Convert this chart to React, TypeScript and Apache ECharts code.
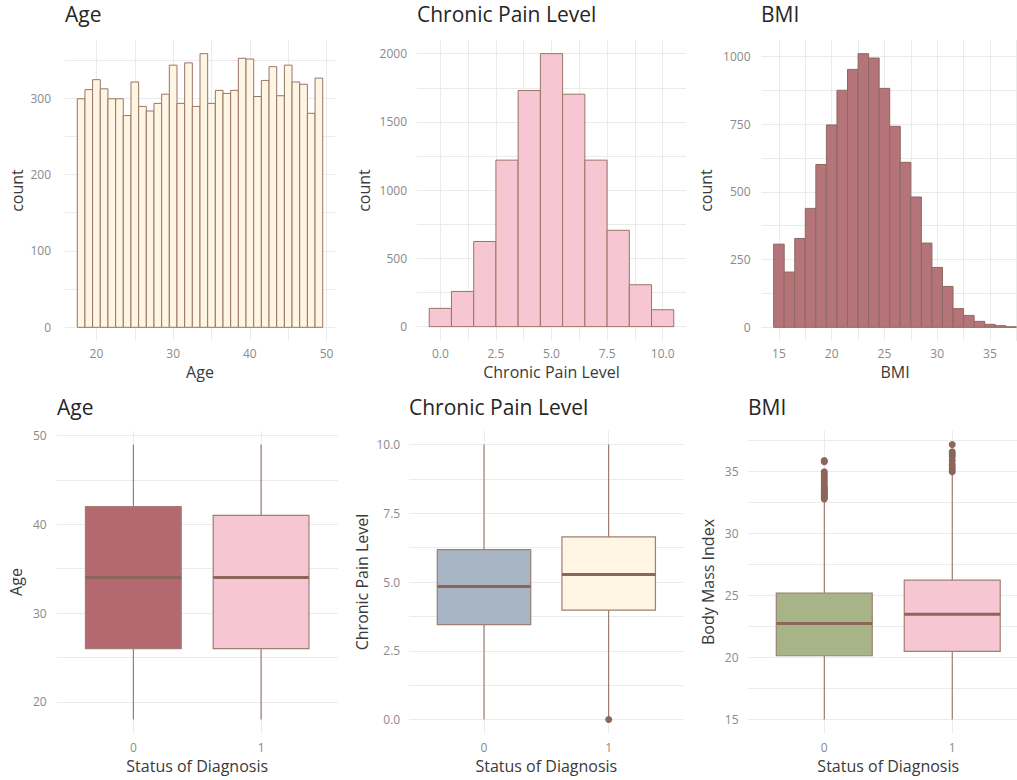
import React, { useEffect, useRef } from "react";
import * as echarts from "echarts";

// ---------- data ----------
const ageBins = [18, 19, 20, 21, 22, 23, 24, 25, 26, 27, 28, 29, 30, 31, 32, 33, 34, 35, 36, 37, 38, 39, 40, 41, 42, 43, 44, 45, 46, 47, 48, 49];
const ageCounts = [299, 311, 324, 312, 299, 299, 277, 321, 289, 283, 293, 305, 343, 293, 346, 289, 358, 293, 310, 306, 310, 352, 351, 302, 323, 341, 303, 343, 321, 318, 280, 326];

const painBins = [0, 1, 2, 3, 4, 5, 6, 7, 8, 9, 10];
const painCounts = [134, 258, 624, 1220, 1730, 2000, 1703, 1220, 706, 307, 124];

const bmiBins = [15, 16, 17, 18, 19, 20, 21, 22, 23, 24, 25, 26, 27, 28, 29, 30, 31, 32, 33, 34, 35, 36, 37];
const bmiCounts = [307, 204, 328, 439, 601, 747, 875, 952, 1010, 994, 882, 742, 609, 481, 311, 221, 151, 69, 44, 22, 11, 6, 2];

const diagnosisLabels = ["0", "1"];
// [lower whisker, Q1, median, Q3, upper whisker] for diagnosis 0 and 1
const ageBox = [
  [18, 26, 34, 42, 49],
  [18, 26, 34, 41, 49],
];
const painBox = [
  [0, 3.45, 4.84, 6.18, 10],
  [0.03, 3.98, 5.27, 6.64, 10],
];
const bmiBox = [
  [15, 20.15, 22.75, 25.2, 32.7],
  [15, 20.5, 23.5, 26.25, 34.85],
];
const painOutliers0: number[] = [];
const painOutliers1 = [0];
const bmiOutliers0 = [32.8, 32.9, 33.0, 33.1, 33.2, 33.3, 33.4, 33.5, 33.6, 33.7, 33.8, 34.0, 34.2, 34.4, 34.6, 34.8, 35.0, 35.8, 35.9];
const bmiOutliers1 = [35.0, 35.2, 35.4, 35.6, 35.9, 36.2, 36.4, 36.6, 37.2];

// ---------- styles ----------
const FONT = "'Open Sans', Lato, sans-serif";
const BROWN = "#8b6659";
const BORDER = "#a07f72";
const CREAM = "#fff5e3";
const PINK = "#f6c7d3";
const ROSE = "#b5737a";
const ROSE_BOX = "#b3696f";
const BLUEGRAY = "#a8b5c4";
const SAGE = "#a7b488";
const GRID = "#ebebeb";
const TICK = "#8a8a8a";
const TITLE = "#262626";
const AXTITLE = "#3a3a3a";

const plain = (v: number) => String(v);

function makeAxis(o: any) {
  return {
    type: "value",
    gridIndex: o.grid,
    min: o.min,
    max: o.max,
    name: o.name,
    nameLocation: "middle",
    nameGap: o.nameGap,
    nameTextStyle: { color: AXTITLE, fontSize: 16, fontFamily: FONT },
    axisLine: { show: false },
    axisTick: { show: false, customValues: o.lines },
    axisLabel: {
      customValues: o.labels,
      color: TICK,
      fontSize: 12,
      fontFamily: FONT,
      margin: o.margin,
      formatter: o.formatter ?? plain,
    },
    splitLine: { show: true, lineStyle: { color: GRID, width: 1 } },
    minorSplitLine: { show: false },
  };
}

function histSeries(grid: number, bins: number[], counts: number[], fill: string, stroke: string) {
  return {
    type: "custom",
    xAxisIndex: grid,
    yAxisIndex: grid,
    data: bins.map((b, i) => [b, counts[i]]),
    encode: { x: 0, y: 1 },
    renderItem: (params: any, api: any) => {
      const c = api.value(0);
      const v = api.value(1);
      const p0 = api.coord([c - 0.5, v]);
      const p1 = api.coord([c + 0.5, 0]);
      return {
        type: "rect",
        shape: { x: p0[0], y: p0[1], width: p1[0] - p0[0], height: p1[1] - p0[1] },
        style: { fill, stroke, lineWidth: 1 },
      };
    },
  };
}

function boxSeries(grid: number, stats: number[][], fills: string[]) {
  return {
    type: "custom",
    xAxisIndex: grid,
    yAxisIndex: grid,
    data: stats.map((s, i) => [i + 1, ...s]),
    encode: { x: 0, y: [1, 2, 3, 4, 5] },
    renderItem: (params: any, api: any) => {
      const x = api.value(0);
      const lo = api.value(1), q1 = api.value(2), md = api.value(3), q3 = api.value(4), hi = api.value(5);
      const hw = 0.375;
      const pLo = api.coord([x, lo]);
      const pQ1 = api.coord([x, q1]);
      const pQ3 = api.coord([x, q3]);
      const pHi = api.coord([x, hi]);
      const tl = api.coord([x - hw, q3]);
      const br = api.coord([x + hw, q1]);
      const mL = api.coord([x - hw, md]);
      const mR = api.coord([x + hw, md]);
      return {
        type: "group",
        children: [
          { type: "line", shape: { x1: pLo[0], y1: pLo[1], x2: pQ1[0], y2: pQ1[1] }, style: { stroke: BROWN, lineWidth: 1 } },
          { type: "line", shape: { x1: pQ3[0], y1: pQ3[1], x2: pHi[0], y2: pHi[1] }, style: { stroke: BROWN, lineWidth: 1 } },
          { type: "rect", shape: { x: tl[0], y: tl[1], width: br[0] - tl[0], height: br[1] - tl[1] }, style: { fill: fills[params.dataIndex], stroke: BORDER, lineWidth: 1.2 } },
          { type: "line", shape: { x1: mL[0], y1: mL[1], x2: mR[0], y2: mR[1] }, style: { stroke: BROWN, lineWidth: 3 } },
        ],
      };
    },
  };
}

function outlierSeries(grid: number, o0: number[], o1: number[]) {
  return {
    type: "scatter",
    xAxisIndex: grid,
    yAxisIndex: grid,
    symbol: "circle",
    symbolSize: 7,
    itemStyle: { color: BROWN, opacity: 1 },
    data: [...o0.map((v) => [1, v]), ...o1.map((v) => [2, v])],
  };
}

const titleStyle = { color: TITLE, fontSize: 21, fontFamily: FONT, fontWeight: "normal" };
const catFormatter = (v: number) => diagnosisLabels[Math.round(v) - 1] ?? "";
const oneDec = (v: number) => v.toFixed(1);

export default function App() {
  const ref = useRef<HTMLDivElement>(null);
  useEffect(() => {
    if (!ref.current) return;
    const chart = echarts.init(ref.current, null, { renderer: "svg" });
    const option: any = {
      animation: false,
      backgroundColor: "#ffffff",
      title: [
        { text: "Age", left: 65, top: 3, padding: 0, textStyle: titleStyle },
        { text: "Chronic Pain Level", left: 417, top: 3, padding: 0, textStyle: titleStyle },
        { text: "BMI", left: 761, top: 3, padding: 0, textStyle: titleStyle },
        { text: "Age", left: 57, top: 396, padding: 0, textStyle: titleStyle },
        { text: "Chronic Pain Level", left: 409, top: 396, padding: 0, textStyle: titleStyle },
        { text: "BMI", left: 748, top: 396, padding: 0, textStyle: titleStyle },
      ],
      grid: [
        { left: 65, top: 40, width: 270, height: 301 },
        { left: 417, top: 40, width: 269, height: 301 },
        { left: 761.5, top: 40, width: 267, height: 301 },
        { left: 56.7, top: 430.7, width: 281, height: 302.6 },
        { left: 409.2, top: 430.7, width: 274.3, height: 302.6 },
        { left: 747.5, top: 430.7, width: 281.5, height: 302.6 },
      ],
      xAxis: [
        makeAxis({ grid: 0, min: 15.9, max: 51.1, name: "Age", nameGap: 23, margin: 6, labels: [20, 30, 40, 50], lines: [20, 25, 30, 35, 40, 45, 50] }),
        makeAxis({ grid: 1, min: -1.05, max: 11.05, name: "Chronic Pain Level", nameGap: 23, margin: 6, labels: [0, 2.5, 5, 7.5, 10], lines: [0, 1.25, 2.5, 3.75, 5, 6.25, 7.5, 8.75, 10], formatter: oneDec }),
        makeAxis({ grid: 2, min: 13.35, max: 38.65, name: "BMI", nameGap: 23, margin: 6, labels: [15, 20, 25, 30, 35], lines: [15, 17.5, 20, 22.5, 25, 27.5, 30, 32.5, 35, 37.5] }),
        makeAxis({ grid: 3, min: 0.4, max: 2.6, name: "Status of Diagnosis", nameGap: 25, margin: 8, labels: [1, 2], lines: [1, 2], formatter: catFormatter }),
        makeAxis({ grid: 4, min: 0.4, max: 2.6, name: "Status of Diagnosis", nameGap: 25, margin: 8, labels: [1, 2], lines: [1, 2], formatter: catFormatter }),
        makeAxis({ grid: 5, min: 0.4, max: 2.6, name: "Status of Diagnosis", nameGap: 25, margin: 8, labels: [1, 2], lines: [1, 2], formatter: catFormatter }),
      ],
      yAxis: [
        makeAxis({ grid: 0, min: -17.9, max: 375.9, name: "count", nameGap: 40, margin: 14, labels: [0, 100, 200, 300], lines: [0, 50, 100, 150, 200, 250, 300, 350] }),
        makeAxis({ grid: 1, min: -105, max: 2100, name: "count", nameGap: 45, margin: 10, labels: [0, 500, 1000, 1500, 2000], lines: [0, 250, 500, 750, 1000, 1250, 1500, 1750, 2000] }),
        makeAxis({ grid: 2, min: -50.5, max: 1060.5, name: "count", nameGap: 48, margin: 11, labels: [0, 250, 500, 750, 1000], lines: [0, 125, 250, 375, 500, 625, 750, 875, 1000] }),
        makeAxis({ grid: 3, min: 16.45, max: 50.55, name: "Age", nameGap: 33, margin: 10, labels: [20, 30, 40, 50], lines: [20, 25, 30, 35, 40, 45, 50] }),
        makeAxis({ grid: 4, min: -0.5, max: 10.5, name: "Chronic Pain Level", nameGap: 39, margin: 9, labels: [0, 2.5, 5, 7.5, 10], lines: [0, 1.25, 2.5, 3.75, 5, 6.25, 7.5, 8.75, 10], formatter: oneDec }),
        makeAxis({ grid: 5, min: 13.89, max: 38.31, name: "Body Mass Index", nameGap: 32, margin: 9, labels: [15, 20, 25, 30, 35], lines: [15, 17.5, 20, 22.5, 25, 27.5, 30, 32.5, 35, 37.5] }),
      ],
      series: [
        histSeries(0, ageBins, ageCounts, CREAM, "#9a7464"),
        histSeries(1, painBins, painCounts, PINK, "#9a7464"),
        histSeries(2, bmiBins, bmiCounts, ROSE, "#8d6a5e"),
        boxSeries(3, ageBox, [ROSE_BOX, PINK]),
        boxSeries(4, painBox, [BLUEGRAY, CREAM]),
        boxSeries(5, bmiBox, [SAGE, PINK]),
        outlierSeries(4, painOutliers0, painOutliers1),
        outlierSeries(5, bmiOutliers0, bmiOutliers1),
      ],
    };
    chart.setOption(option);
    return () => chart.dispose();
  }, []);

  return (
    <div style={{ position: "fixed", left: 0, top: 0, width: 1017, height: 780, overflow: "hidden", background: "#fff" }}>
      <div ref={ref} style={{ width: 1030, height: 780 }} />
    </div>
  );
}
